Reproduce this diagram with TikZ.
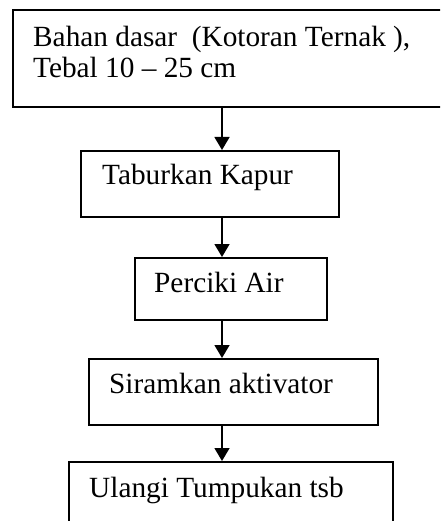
\documentclass[tikz,border=0pt]{standalone}
\usepackage{fontspec}
\setmainfont{Liberation Serif}
\usetikzlibrary{arrows,arrows.meta}

\begin{document}
\begin{tikzpicture}[x=1pt,y=-1pt,
box/.style={draw,line width=1.6pt,inner sep=0pt,anchor=north west},
txt/.style={font=\fontsize{29.3}{31}\selectfont,anchor=base west,inner sep=0pt,align=left},
arrow/.style={-{Triangle[length=13pt,width=15pt]},line width=1.5pt} ]

\useasboundingbox (0,0) rectangle (440,521);
\clip (0,0) rectangle (440,521);

\coordinate (mid) at (222,0);

\node[box,minimum width=440pt,minimum height=97pt] (B1) at (12,9) {};

\node[box,minimum width=258pt,minimum height=66pt] (B2) at (80,150) {};

\node[box,minimum width=192pt,minimum height=62pt] (B3) at (134,257) {};

\node[box,minimum width=289pt,minimum height=66pt] (B4) at (88,358) {};

\node[box,minimum width=324pt,minimum height=80pt] (B5) at (68,461) {};

% last line baseline
\node[txt] (T1) at (33,78) {Bahan dasar\ \ (Kotoran Ternak ),\\Tebal 10 – 25 cm};

\node[txt] (T2) at (102,185) {Taburkan Kapur};

\node[txt] (T3) at (154,292) {Perciki Air};

\node[txt] (T4) at (109,393) {Siramkan aktivator};

\node[txt] (T5) at (89,497) {Ulangi Tumpukan tsb};

\draw[arrow] (B1.south -| mid) -- (B2.north -| mid);

\draw[arrow] (B2.south -| mid) -- (B3.north -| mid);

\draw[arrow] (B3.south -| mid) -- (B4.north -| mid);

\draw[arrow] (B4.south -| mid) -- (B5.north -| mid);

\end{tikzpicture}
\end{document}
